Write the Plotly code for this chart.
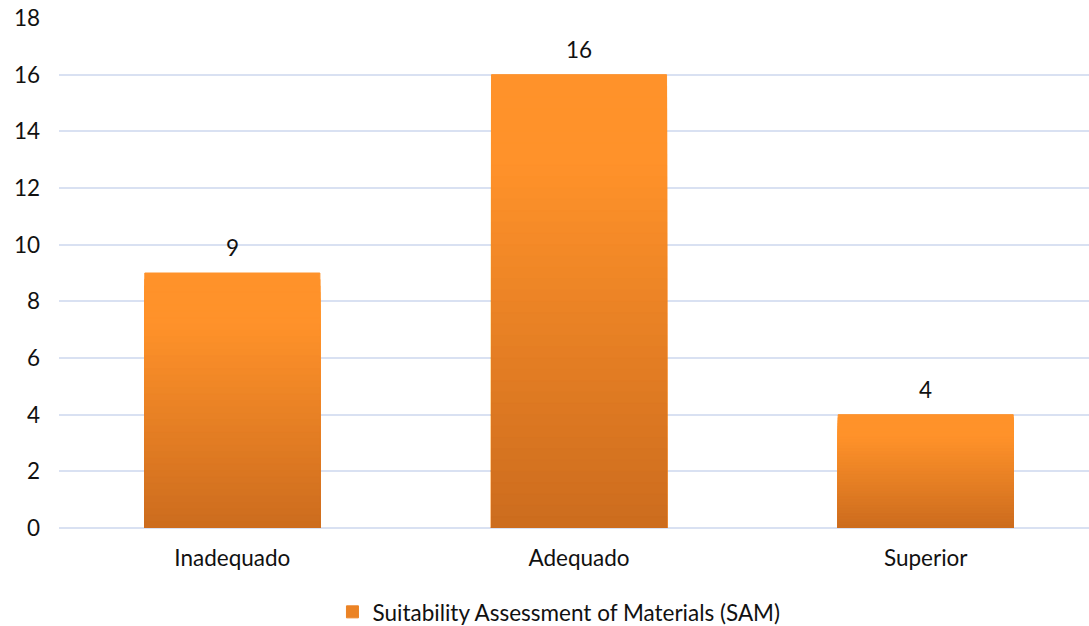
import plotly.graph_objects as go

categories = ["Inadequado", "Adequado", "Superior"]
values = [9, 16, 4]
series_name = "Suitability Assessment of Materials (SAM)"
y_ticks = [0, 2, 4, 6, 8, 10, 12, 14, 16, 18]

FONT = "Lato"
FS = 22.5
TXT = "#111111"
TOP = (255, 146, 42)
BOT = (204, 108, 30)
N = 40  # gradient layers (styling only)


def col(t):
    # t: 0 at bottom, 1 at top; top 20% solid
    s = min(t / 0.8, 1.0)
    r, g, b = [round(BOT[i] + (TOP[i] - BOT[i]) * s) for i in range(3)]
    return f"rgb({r},{g},{b})"


fig = go.Figure()
# Tallest layer first, shorter (darker) layers drawn over it -> seamless gradient
for k in range(N):
    frac = (N - k) / N
    c = col(frac - 0.5 / N)
    fig.add_trace(go.Bar(
        x=categories, y=[v * frac for v in values],
        marker=dict(color=c, line=dict(width=1, color=c)),
        name=series_name,
        showlegend=(k == N // 2),
        legendgroup="sam",
        hoverinfo=None if k == 0 else "skip",
    ))

annotations = [
    dict(x=cat, y=v, text=str(v), showarrow=False, yanchor="bottom", yshift=10,
         font=dict(family=FONT, size=FS, color=TXT))
    for cat, v in zip(categories, values)
]

fig.update_layout(
    barmode="overlay",
    bargap=0.495,
    width=1089, height=626,
    margin=dict(l=59, r=0, t=18, b=98, autoexpand=False),
    plot_bgcolor="white", paper_bgcolor="white",
    font=dict(family=FONT, size=FS, color=TXT),
    showlegend=True,
    annotations=annotations,
    legend=dict(orientation="h", x=0.4854, xanchor="center", yref="container",
                y=0.022, yanchor="middle",
                font=dict(family=FONT, size=FS, color=TXT), itemwidth=30),
)
fig.update_xaxes(range=[-0.5, 2.471], showgrid=False, showline=False, ticks="",
                 ticklabelstandoff=14, tickfont=dict(family=FONT, size=FS))
fig.update_yaxes(range=[0, 18], tickvals=y_ticks, showgrid=True, gridcolor="#D9E1F2",
                 gridwidth=2, zeroline=True, zerolinecolor="#D9E1F2", zerolinewidth=2,
                 ticks="", ticklabelstandoff=18, tickfont=dict(family=FONT, size=FS))
fig.write_html("out.html")
